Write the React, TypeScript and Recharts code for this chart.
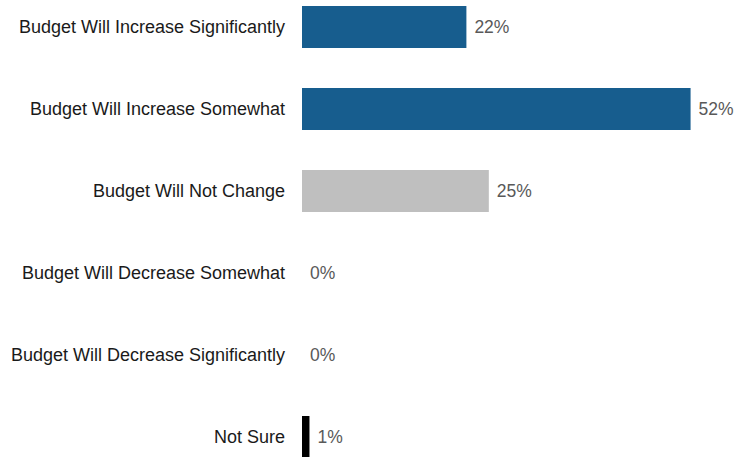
import { BarChart, Bar, XAxis, YAxis, Cell, LabelList } from 'recharts';

const categories = [
    'Budget Will Increase Significantly',
    'Budget Will Increase Somewhat',
    'Budget Will Not Change',
    'Budget Will Decrease Somewhat',
    'Budget Will Decrease Significantly',
    'Not Sure',
];
const shares = [22, 52, 25, 0, 0, 1];

const barColors = ['#175D8E', '#175D8E', '#BFBFBF', '#175D8E', '#175D8E', '#000000'];

const data = categories.map((name, i) => ({ name, share: shares[i] }));

const font = 'Liberation Sans, Arial, sans-serif';

// value label drawn by hand so 0% bars still get one
const ValueLabel = (props: any) => {
    const { x, y, width, height, value } = props;
    return (
        <text
            x={Number(x) + Number(width || 0) + 8}
            y={Number(y) + Number(height) / 2}
            dy="0.355em"
            fontSize={17.5}
            fill="#595959"
            fontFamily={font}
        >
            {`${value}%`}
        </text>
    );
};

export default function App() {
    return (
        <div style={{ position: 'absolute', left: 0, top: 0, width: 736, height: 457, overflow: 'hidden', background: '#fff' }}>
            <div style={{ position: 'absolute', left: 0, top: -14 }}>
                <BarChart
                    width={736}
                    height={492}
                    data={data}
                    layout="vertical"
                    margin={{ top: 0, right: 23, left: 0, bottom: 0 }}
                    barSize={42}
                >
                    <XAxis type="number" domain={[0, 55]} hide />
                    <YAxis
                        type="category"
                        dataKey="name"
                        width={302}
                        axisLine={false}
                        tickLine={false}
                        tickMargin={11}
                        interval={0}
                        tick={{ fontSize: 18, fill: '#1a1a1a', fontFamily: font }}
                    />
                    {/* tiny minPointSize keeps the 0% rows in the label list */}
                    <Bar dataKey="share" minPointSize={0.01} isAnimationActive={false}>
                        {data.map((d, i) => (
                            <Cell key={d.name} fill={d.share > 0 ? barColors[i] : 'none'} />
                        ))}
                        <LabelList dataKey="share" content={ValueLabel} />
                    </Bar>
                </BarChart>
            </div>
        </div>
    );
}
